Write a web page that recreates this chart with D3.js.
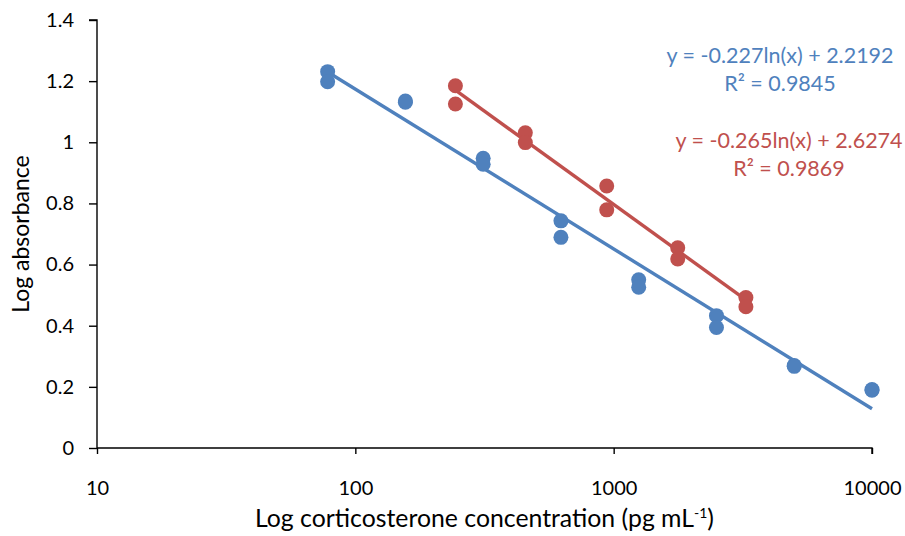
<html>
  <head>
    <script src="https://cdnjs.cloudflare.com/ajax/libs/d3/7.9.0/d3.min.js"></script>
    <style>
      body { margin: 0; background: #fff; }
      text { font-family: Lato, "Open Sans", sans-serif; }
    </style>
  </head>
  <body onload="main()">
  </body>
  <script>
    // concentrations (pg/mL) and log absorbance
    const blueX = [78.125, 78.125, 156.25, 156.25, 312.5, 312.5, 625, 625, 1250, 1250, 2500, 2500, 5000, 5000, 10000, 10000]
    const blueY = [1.231, 1.198, 1.135, 1.131, 0.948, 0.928, 0.743, 0.689, 0.550, 0.526, 0.433, 0.394, 0.270, 0.267, 0.191, 0.189]
    const redX = [244, 244, 455, 455, 940, 940, 1770, 1770, 3250, 3250]
    const redY = [1.185, 1.125, 1.031, 0.999, 0.857, 0.779, 0.655, 0.618, 0.492, 0.462]
    // trendline y = a ln(x) + b
    const blueFit = { a: -0.227, b: 2.2192, r2: '0.9845' }
    const redFit = { a: -0.265, b: 2.6274, r2: '0.9869' }
    const xTicks = [10, 100, 1000, 10000]
    const yTicks = [0, 0.2, 0.4, 0.6, 0.8, 1, 1.2, 1.4]

    function main() {
      const width = 905, height = 536
      const left = 97, right = 872, top = 20, bottom = 448
      const svg = d3.select('body').append('svg')
        .attr('width', width)
        .attr('height', height)

      const x = d3.scaleLog([10, 10000], [left, right])
      const y = d3.scaleLinear([0, 1.4], [bottom, top])

      const yAxis = svg.append('g')
        .attr('transform', `translate(${left},0)`)
        .call(d3.axisLeft(y).tickValues(yTicks).tickSize(8).tickPadding(15).tickFormat(d => d3.format('')(+d.toFixed(1))))
      yAxis.select('.domain').attr('d', `M-8,${top}H0V${bottom}`).attr('stroke-width', 1.4)
      yAxis.selectAll('.tick line').attr('stroke-width', 1.4)
      yAxis.selectAll('.tick text').attr('font-size', 20).attr('fill', '#000').attr('font-family', 'Lato')

      const xAxis = svg.append('g')
        .attr('transform', `translate(0,${bottom})`)
        .call(d3.axisBottom(x).tickValues(xTicks).tickSize(6).tickPadding(27).tickFormat(d3.format('d')))
      xAxis.select('.domain').attr('d', `M${left},0H${right}V6`).attr('stroke-width', 1.4)
      xAxis.selectAll('.tick line').attr('stroke-width', 1.4)
      xAxis.selectAll('.tick text').attr('font-size', 20).attr('fill', '#000').attr('font-family', 'Lato')

      const series = [
        { xs: blueX, ys: blueY, fit: blueFit, color: '#4F81BD', eqX: 780, eqY: 63 },
        { xs: redX, ys: redY, fit: redFit, color: '#C0504D', eqX: 789, eqY: 148 }
      ]

      series.forEach(s => {
        const pts = s.xs.map((v, i) => [v, s.ys[i]])
        const ext = d3.extent(s.xs)
        svg.append('path')
          .attr('d', d3.line().x(d => x(d)).y(d => y(s.fit.a * Math.log(d) + s.fit.b))(ext))
          .attr('stroke', s.color)
          .attr('stroke-width', 3.4)
          .attr('fill', 'none')
        svg.append('g')
          .selectAll('circle')
          .data(pts)
          .enter()
          .append('circle')
          .attr('cx', d => x(d[0]))
          .attr('cy', d => y(d[1]))
          .attr('r', 7.5)
          .attr('fill', s.color)
      })

      series.forEach(s => {
        const sign = s.fit.b >= 0 ? '+' : '-'
        svg.append('text')
          .attr('x', s.eqX).attr('y', s.eqY)
          .attr('text-anchor', 'middle')
          .attr('font-size', 21.5)
          .attr('fill', s.color)
          .text(`y = ${s.fit.a}ln(x) ${sign} ${Math.abs(s.fit.b)}`)
        svg.append('text')
          .attr('x', s.eqX).attr('y', s.eqY + 28)
          .attr('text-anchor', 'middle')
          .attr('font-size', 21.5)
          .attr('fill', s.color)
          .text(`R² = ${s.fit.r2}`)
      })

      const xt = svg.append('text')
        .attr('x', (left + right) / 2)
        .attr('y', 527)
        .attr('text-anchor', 'middle')
        .attr('font-size', 24.8)
      xt.append('tspan').text('Log corticosterone concentration (pg mL')
      xt.append('tspan').attr('dy', -9).attr('font-size', 14).text('-1')
      xt.append('tspan').attr('dy', 9).text(')')

      svg.append('text')
        .attr('transform', `translate(29,${(top + bottom) / 2}) rotate(-90)`)
        .attr('text-anchor', 'middle')
        .attr('font-size', 23)
        .text('Log absorbance')
    }
  </script>
</html>
